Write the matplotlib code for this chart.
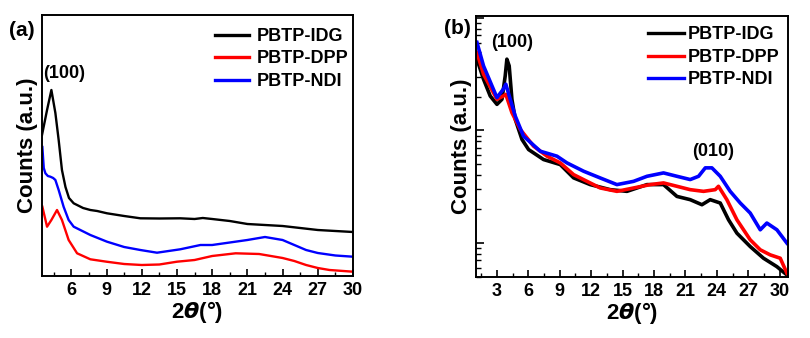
import numpy as np
import matplotlib
matplotlib.use("Agg")
import matplotlib.pyplot as plt

plt.rcParams['font.family'] = ['Liberation Sans', 'DejaVu Sans']
plt.rcParams['font.weight'] = 'bold'
plt.rcParams['mathtext.fontset'] = 'dejavusans'

# ---- panel (a): stacked linear counts (a.u.) ----
a_idg_x = [3.5, 3.93, 4.3, 4.64, 4.92, 5.2, 5.5, 5.8, 6.2, 7.0, 7.62, 8.2, 9.04, 10.5,
           11.88, 13.5, 15.28, 16.5, 17.2, 18, 19.5, 21, 22.5, 24, 25.5, 27, 28.5, 30]
a_idg_y = [141, 166, 186, 163, 136, 106, 89, 78, 72.7, 68, 66, 65, 62.7, 60,
           57.7, 57.5, 57.7, 57, 58, 57, 55, 52, 51, 50, 48, 46, 45, 44]

a_dpp_x = [3.53, 3.93, 4.3, 4.78, 5.2, 5.77, 6.49, 7.62, 9.0, 10.5, 12.0, 13.5, 15.0,
           16.5, 18.0, 20.0, 22.0, 24.0, 25.0, 26.0, 27.0, 28.0, 30.0]
a_dpp_y = [69.3, 49.3, 56, 66, 56, 36, 22.7, 16.7, 14.3, 12, 11, 11.5, 14.3,
           16, 20, 22.7, 22, 18, 15, 11, 8, 6, 4.3]

a_ndi_x = [3.53, 3.65, 3.79, 4.0, 4.21, 4.45, 4.64, 4.92, 5.34, 5.77, 6.2, 7.62, 9.04,
           10.5, 11.88, 13.3, 15.28, 17.0, 18.0, 19.5, 21.0, 22.5, 24.0, 25.0, 26.0,
           27.0, 28.5, 30.0]
a_ndi_y = [129, 108, 102.7, 100, 99.3, 98, 96, 86, 69.3, 56, 49.3, 41, 34.3,
           29, 26, 23.3, 26.7, 31, 31, 33.5, 36, 39, 36, 31, 26,
           23, 20.5, 19.3]

# ---- panel (b): log10 of counts ----
b_idg_x = [1.09, 1.72, 2.36, 3.0, 3.48, 3.79, 3.95, 4.17, 4.43, 4.75, 5.39, 6.02, 7.45,
           9.05, 10.32, 11.91, 13.82, 15.42, 17.33, 18.91, 20.19, 21.46, 22.58, 23.37,
           24.33, 25.12, 25.92, 27.19, 28.46, 29.74, 30.7]
b_idg_log = [3.634, 3.455, 3.306, 3.232, 3.277, 3.485, 3.634, 3.574, 3.277, 3.098, 2.920,
             2.830, 2.741, 2.696, 2.578, 2.518, 2.473, 2.458, 2.518, 2.518, 2.413, 2.384,
             2.339, 2.384, 2.354, 2.205, 2.086, 1.967, 1.863, 1.788, 1.714]

b_dpp_x = [1.09, 1.72, 3.0, 3.6, 3.85, 4.43, 5.23, 6.5, 7.78, 9.05, 10.32, 11.6, 12.87,
           14.46, 16.05, 17.64, 18.91, 20.19, 21.46, 22.73, 23.85, 24.16, 24.96, 25.92,
           27.19, 28.15, 29.1, 30.06, 30.7]
b_dpp_log = [3.694, 3.5, 3.277, 3.306, 3.321, 3.158, 3.009, 2.860, 2.771, 2.711, 2.607,
             2.547, 2.488, 2.458, 2.488, 2.518, 2.533, 2.503, 2.473, 2.458, 2.473, 2.503,
             2.384, 2.205, 2.027, 1.938, 1.893, 1.863, 1.729]

b_ndi_x = [1.09, 1.72, 3.0, 3.6, 3.85, 4.27, 4.75, 5.54, 7.14, 8.73, 9.69, 11.28, 12.87,
           14.46, 16.05, 17.33, 18.91, 20.19, 21.46, 22.26, 22.9, 23.53, 24.33, 25.28,
           26.24, 27.19, 28.15, 28.78, 29.74, 30.7]
b_ndi_log = [3.783, 3.574, 3.292, 3.366, 3.411, 3.277, 3.128, 2.949, 2.815, 2.771, 2.711,
             2.637, 2.577, 2.518, 2.547, 2.592, 2.622, 2.592, 2.563, 2.592, 2.667, 2.667,
             2.592, 2.458, 2.354, 2.265, 2.116, 2.176, 2.116, 1.997]

names = ['PBTP-IDG', 'PBTP-DPP', 'PBTP-NDI']
colors = ['black', 'red', 'blue']

fig = plt.figure(figsize=(8.1, 3.38), dpi=100)
ax1 = fig.add_axes([42/810, 62/338, 311/810, 261/338])
ax2 = fig.add_axes([476/810, 61/338, 312/810, 261/338])

# panel (a)
for xs, ys, c, n in zip([a_idg_x, a_dpp_x, a_ndi_x], [a_idg_y, a_dpp_y, a_ndi_y], colors, names):
    ax1.plot(xs, ys, color=c, lw=1.7, label=n)
ax1.set_xlim(3.5, 30)
ax1.set_ylim(0, 261)
ax1.set_xticks(np.arange(6, 31, 3))
ax1.set_xticks(np.arange(4.5, 30.1, 1.5), minor=True)
ax1.set_yticks([])
ax1.text(5.36, 203, '(100)', ha='center', va='center', fontsize=13, fontweight='bold')

# panel (b)
for xs, ys, c, n in zip([b_idg_x, b_dpp_x, b_ndi_x], [b_idg_log, b_dpp_log, b_ndi_log], colors, names):
    ax2.plot(xs, 10 ** np.array(ys), color=c, lw=2.6, label=n)
ax2.set_yscale('log')
ax2.set_xlim(1.0, 30.8)
ax2.set_ylim(10 ** 1.696, 10 ** 4.018)
ax2.set_xticks(np.arange(3, 31, 3))
ax2.set_xticks(np.arange(1.5, 30.8, 1.5), minor=True)
ax2.tick_params(axis='y', which='both', labelleft=False, direction='in', left=True, right=False)
ax2.tick_params(axis='y', which='major', length=6, width=1.2)
ax2.tick_params(axis='y', which='minor', length=3.5, width=1)
ax2.text(4.46, 10 ** 3.786, '(100)', ha='center', va='center', fontsize=13, fontweight='bold')
ax2.text(23.66, 10 ** 2.8125, '(010)', ha='center', va='center', fontsize=13, fontweight='bold')

for ax in (ax1, ax2):
    for s in ax.spines.values():
        s.set_linewidth(1.4)
    ax.tick_params(axis='x', which='major', direction='in', length=5, width=1.2,
                   labelsize=13, pad=4)
    ax.tick_params(axis='x', which='minor', direction='in', length=3, width=1)
    for lab in ax.get_xticklabels():
        lab.set_fontweight('bold')
    ax.set_xlabel('2$\\theta$(°)', fontsize=16, fontweight='bold', labelpad=0)
    ax.set_ylabel('Counts (a.u.)', fontsize=16, fontweight='bold', labelpad=3)

ax1.legend(loc='upper left', bbox_to_anchor=(0.556, 0.95), frameon=False,
           handlelength=1.9, handletextpad=0.4, labelspacing=0.3, borderpad=0,
           borderaxespad=0, prop={'weight': 'bold', 'size': 13})
ax2.legend(loc='upper left', bbox_to_anchor=(0.55, 0.96), frameon=False,
           handlelength=2.0, handletextpad=0.25, labelspacing=0.3, borderpad=0,
           borderaxespad=0, prop={'weight': 'bold', 'size': 13})
for leg in (ax1.get_legend(), ax2.get_legend()):
    for h in leg.legend_handles:
        h.set_linewidth(2.4)

fig.text(22/810, 1 - 30/338, '(a)', ha='center', va='center', fontsize=15, fontweight='bold')
fig.text(457/810, 1 - 28/338, '(b)', ha='center', va='center', fontsize=15, fontweight='bold')

fig.savefig('out.png', dpi=100)
